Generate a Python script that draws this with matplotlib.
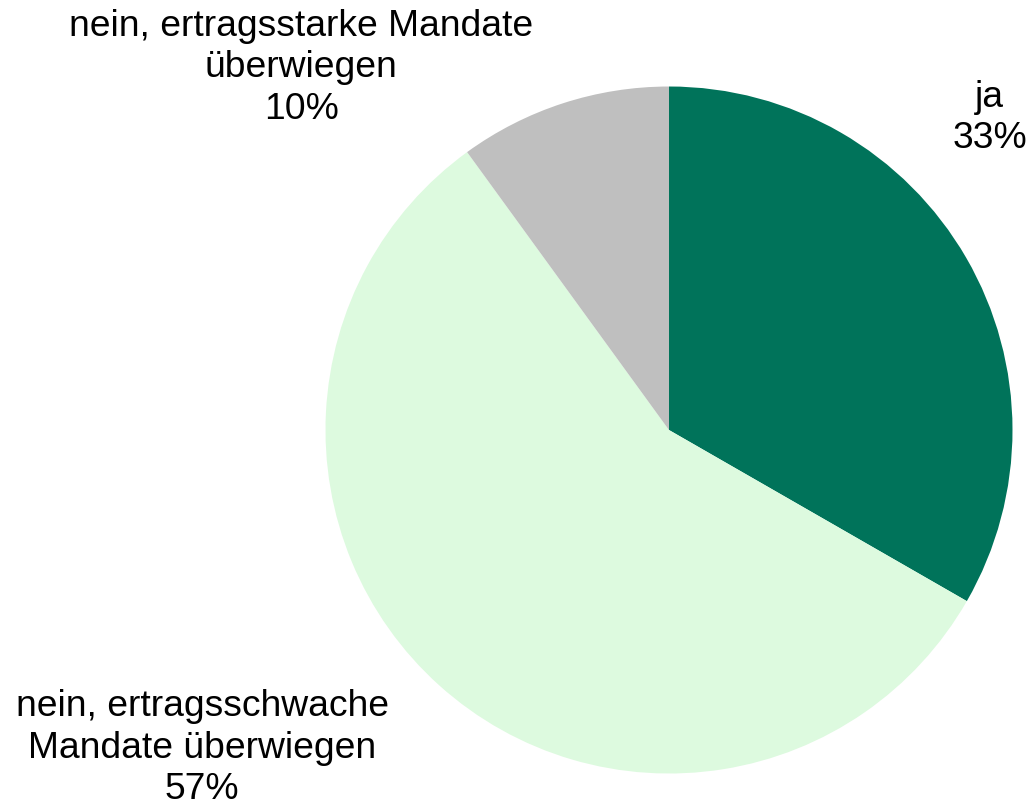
import matplotlib.pyplot as plt

plt.rcParams['font.family'] = ['Liberation Sans', 'DejaVu Sans']

labels = ["ja", "nein, ertragsschwache\nMandate überwiegen", "nein, ertragsstarke Mandate\nüberwiegen"]
values = [33.3, 56.7, 10.0]
pct_text = ["33%", "57%", "10%"]
colors = ["#00735A", "#DDFADF", "#BFBFBF"]

fig = plt.figure(figsize=(10.32, 8.07), dpi=100)
# pie centre at about (669, 430) px, radius ~343 px
ax = fig.add_axes([0.3154, 0.0415, 0.6657, 0.8513])
ax.pie(values, colors=colors, startangle=90, counterclock=False, radius=1,
       wedgeprops=dict(linewidth=0))
ax.set_xlim(-1, 1)
ax.set_ylim(-1, 1)
ax.set_aspect('equal')
ax.axis('off')

# label positions (figure fractions)
pos = [(0.959, 0.854), (0.196, 0.073), (0.292, 0.916)]
for lab, p, (x, y) in zip(labels, pct_text, pos):
    fig.text(x, y, lab + "\n" + p, ha='center', va='center', fontsize=26.8,
             linespacing=1.24)

fig.savefig('out.png', dpi=100)
